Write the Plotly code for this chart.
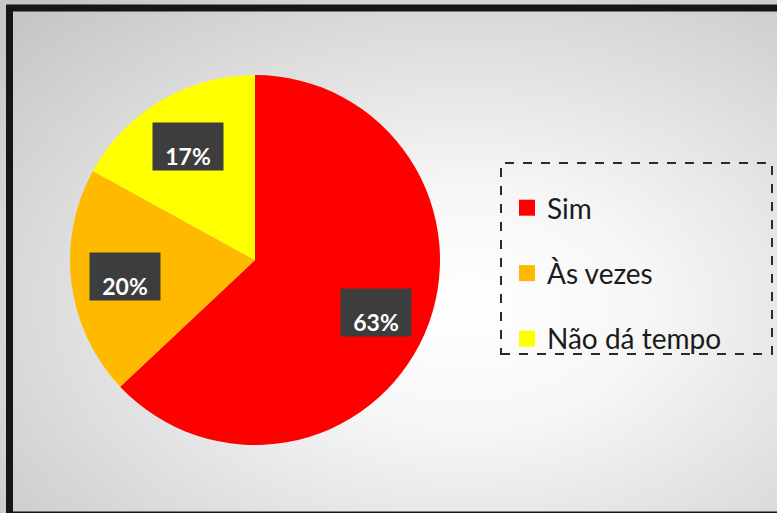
import base64
import math
import plotly.graph_objects as go

# Survey answers and their shares (%)
categories = ["Sim", "Às vezes", "Não dá tempo"]
values = [63, 20, 17]
colors = ["#FF0000", "#FFBA00", "#FFFF00"]

W, H = 777, 513

# Pie placement in pixels
cx, cy, r = 255, 260, 185


def px_x(x):
    return x / W


def px_y(y):
    return 1 - y / H


# Soft radial background (light centre fading to grey)
svg = f"""<svg xmlns='http://www.w3.org/2000/svg' width='{W}' height='{H}'>
<defs><radialGradient id='g' cx='0.6' cy='0.6' r='0.8'>
<stop offset='0' stop-color='#ffffff'/>
<stop offset='0.3' stop-color='#f6f6f6'/>
<stop offset='1' stop-color='#c6c6c6'/>
</radialGradient></defs>
<rect width='{W}' height='{H}' fill='url(#g)'/></svg>"""
bg_src = "data:image/svg+xml;base64," + base64.b64encode(svg.encode()).decode()

fig = go.Figure()

fig.add_trace(go.Pie(
    labels=categories,
    values=values,
    marker=dict(colors=colors, line=dict(width=0)),
    sort=False,
    direction="clockwise",
    rotation=0,
    textinfo="none",
    hoverinfo="label+percent",
    showlegend=False,
    domain=dict(x=[px_x(cx - r), px_x(cx + r)], y=[px_y(cy + r), px_y(cy - r)]),
))

# Legend entries, one group each so the rows can be spaced apart
for i, (name, col) in enumerate(zip(categories, colors)):
    fig.add_trace(go.Scatter(
        x=[None], y=[None], mode="markers", name=name,
        marker=dict(symbol="square", size=20, color=col),
        legendgroup=f"g{i}", showlegend=True,
    ))

# Percentage labels in dark boxes, placed at each slice's mid-angle
annotations = []
total = sum(values)
cum = 0
for v in values:
    mid = (cum + v / 2) / total
    cum += v
    theta = 2 * math.pi * mid
    lx = cx + 0.71 * r * math.sin(theta)
    ly = cy - 0.71 * r * math.cos(theta)
    annotations.append(dict(
        x=px_x(lx), y=px_y(ly), xref="paper", yref="paper",
        text=f"<b>{v}%</b>", showarrow=False,
        font=dict(family="Lato", size=23, color="white"),
        bgcolor="#3d3d3d", width=70, height=47, valign="bottom",
        borderpad=0, xanchor="center", yanchor="middle",
    ))

shapes = [
    # outer dark frame
    dict(type="rect", xref="paper", yref="paper",
         x0=px_x(9.5), x1=px_x(790), y0=px_y(515), y1=px_y(8),
         line=dict(color="#161616", width=7), fillcolor="rgba(0,0,0,0)", layer="above"),
    # dashed legend box
    dict(type="rect", xref="paper", yref="paper",
         x0=px_x(501), x1=px_x(772), y0=px_y(354), y1=px_y(163),
         line=dict(color="#2a2a2a", width=2, dash="dash"), fillcolor="rgba(0,0,0,0)"),
]

fig.update_layout(
    width=W, height=H,
    margin=dict(l=0, r=0, t=0, b=0),
    paper_bgcolor="white",
    plot_bgcolor="rgba(0,0,0,0)",
    xaxis=dict(visible=False),
    yaxis=dict(visible=False),
    images=[dict(source=bg_src, xref="paper", yref="paper", x=0, y=1,
                 sizex=1, sizey=1, sizing="stretch", layer="below",
                 xanchor="left", yanchor="top")],
    showlegend=True,
    legend=dict(
        x=px_x(507), y=px_y(183), xanchor="left", yanchor="top",
        bgcolor="rgba(0,0,0,0)", borderwidth=0,
        font=dict(family="Lato", size=28, color="#1a1a1a"),
        tracegroupgap=26, itemclick=False, itemdoubleclick=False,
    ),
    annotations=annotations,
    shapes=shapes,
)

fig.write_html("out.html")
